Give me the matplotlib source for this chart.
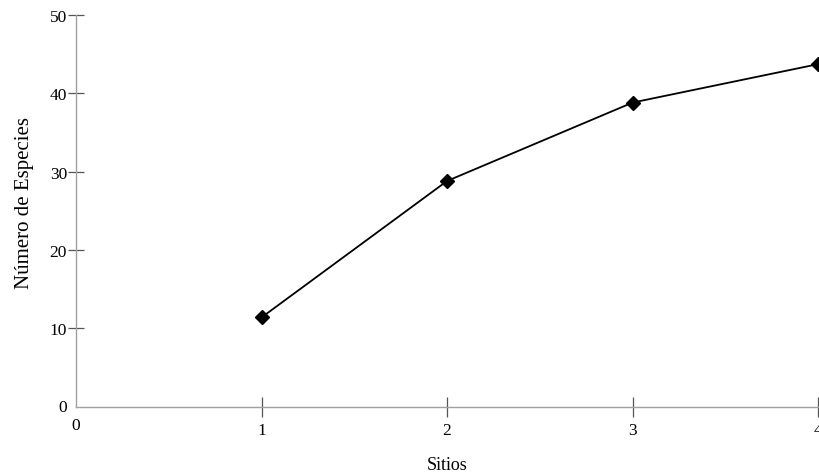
import numpy as np
import matplotlib.pyplot as plt

plt.rcParams['font.family'] = ['Liberation Serif', 'DejaVu Serif']

sitios = [1, 2, 3, 4]
especies = [11.4, 28.8, 38.8, 43.7]
xticks = [1, 2, 3, 4]
yticks = [10, 20, 30, 40, 50]

fig = plt.figure(figsize=(8.2, 4.77), dpi=100)
ax = fig.add_axes([0.0927, 0.145, 0.905, 0.822])

ax.plot(sitios, especies, color='black', lw=1.3, marker='D', ms=7.5, mfc='black', mec='black')

ax.set_xlim(0, 4)
ax.set_ylim(0, 50)
ax.set_xticks(xticks)
ax.set_yticks(yticks)

for s in ['top', 'right']:
    ax.spines[s].set_visible(False)
for s in ['left', 'bottom']:
    ax.spines[s].set_color('#a0a0a0')
    ax.spines[s].set_linewidth(1)

ax.tick_params(axis='y', direction='inout', length=11, width=0.9, color='#555555', labelsize=12.5, pad=1)
ax.tick_params(axis='x', direction='inout', length=14, width=0.9, color='#555555', labelsize=12.5, pad=4)

# the zero labels sit apart from the ticks
ax.text(0, -0.026, '0', transform=ax.get_xaxis_transform(), ha='center', va='top', fontsize=12.5)
ax.text(-0.012, 0, '0', transform=ax.get_yaxis_transform(), ha='right', va='center', fontsize=12.5)

ax.set_xlabel('Sitios', fontsize=13, labelpad=13)
ax.set_ylabel('Número de Especies', fontsize=15)
ax.yaxis.set_label_coords(-0.056, 0.522)

fig.savefig('out.png', dpi=100)
